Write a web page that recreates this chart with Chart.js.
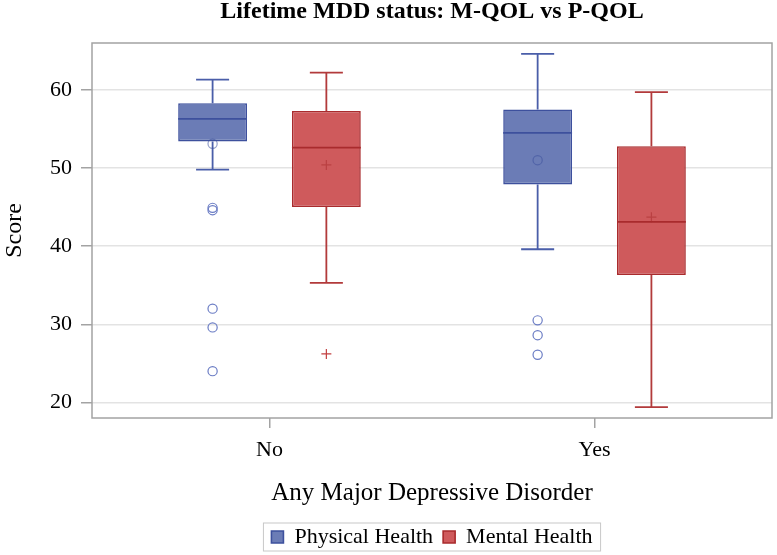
<!DOCTYPE html>
<html>
<head>
<meta charset="utf-8">
<script src="https://cdn.jsdelivr.net/npm/chart.js@4.4.1/dist/chart.umd.min.js"></script>
<style>
  html, body { margin: 0; padding: 0; background: #fff; }
  #wrap { width: 777px; height: 555px; }
</style>
</head>
<body>
<div id="wrap"><canvas id="myChart"></canvas></div>
<script>
const categories = ['No', 'Yes'];

// Physical Health box stats
const physMin = [49.8, 39.6];
const physQ1 = [53.4, 47.9];
const physMed = [56.3, 54.5];
const physQ3 = [58.3, 57.5];
const physMax = [61.3, 64.6];
const physMean = [53.1, 51.0];
const physOut = [[44.9, 44.6, 32.0, 29.6, 24.0], [30.5, 28.6, 26.1]];

// Mental Health
const mentMin = [35.3, 19.4];
const mentQ1 = [45.0, 36.3];
const mentMed = [52.6, 43.1];
const mentQ3 = [57.3, 52.8];
const mentMax = [62.2, 59.7];
const mentMean = [50.4, 43.7];
const mentOut = [[26.2], []];

const yTicks = [20, 30, 40, 50, 60];

const groups = [
  { min: physMin, med: physMed, max: physMax, mean: physMean, out: physOut,
    fill: '#6b7cb6', edge: '#3d509d', line: '#4a5ea9', mark: '#6a7cc4', meanMark: 'circle', outMark: 'circle' },
  { min: mentMin, med: mentMed, max: mentMax, mean: mentMean, out: mentOut,
    fill: '#cf5a5c', edge: '#a92b2d', line: '#b23a3b', mark: '#c23f40', meanMark: 'plus', outMark: 'plus' }
];

function marker(ctx, kind, x, y, color, alpha) {
  ctx.save();
  ctx.globalAlpha = alpha;
  ctx.strokeStyle = color;
  ctx.lineWidth = 1.2;
  ctx.beginPath();
  if (kind === 'circle') {
    ctx.arc(x, y, 4.6, 0, Math.PI * 2);
  } else {
    ctx.moveTo(x - 5, y); ctx.lineTo(x + 5, y);
    ctx.moveTo(x, y - 5); ctx.lineTo(x, y + 5);
  }
  ctx.stroke();
  ctx.restore();
}

const boxParts = {
  id: 'boxParts',
  beforeDatasetsDraw(chart) {
    // whiskers + caps
    const ctx = chart.ctx;
    const y = chart.scales.y;
    groups.forEach((g, di) => {
      chart.getDatasetMeta(di).data.forEach((bar, j) => {
        const cx = bar.x;
        const cap = bar.width * 0.24;
        const top = y.getPixelForValue(g.max[j]);
        const bot = y.getPixelForValue(g.min[j]);
        ctx.save();
        ctx.strokeStyle = g.line;
        ctx.lineWidth = 1.8;
        ctx.beginPath();
        ctx.moveTo(cx, top); ctx.lineTo(cx, bar.y);
        ctx.moveTo(cx, bar.base); ctx.lineTo(cx, bot);
        ctx.moveTo(cx - cap, top); ctx.lineTo(cx + cap, top);
        ctx.moveTo(cx - cap, bot); ctx.lineTo(cx + cap, bot);
        ctx.stroke();
        ctx.restore();
      });
    });
  },
  afterDatasetsDraw(chart) {
    const ctx = chart.ctx;
    const y = chart.scales.y;
    const a = chart.chartArea;
    groups.forEach((g, di) => {
      chart.getDatasetMeta(di).data.forEach((bar, j) => {
        const cx = bar.x;
        const half = bar.width / 2;
        const my = y.getPixelForValue(g.med[j]);
        ctx.save();
        ctx.strokeStyle = g.edge;
        ctx.lineWidth = 1.8;
        ctx.beginPath();
        ctx.moveTo(cx - half, my);
        ctx.lineTo(cx + half, my);
        ctx.stroke();
        ctx.restore();
        marker(ctx, g.meanMark, cx, y.getPixelForValue(g.mean[j]), g.edge, 0.55);
        g.out[j].forEach(v => marker(ctx, g.outMark, cx, y.getPixelForValue(v), g.mark, 1));
      });
    });
    // plot frame
    ctx.save();
    ctx.strokeStyle = '#a3a3a3';
    ctx.lineWidth = 1.5;
    ctx.strokeRect(a.left, a.top, a.right - a.left, a.bottom - a.top);
    ctx.restore();
  },
  afterDraw(chart) {
    // box round the legend
    const boxes = chart.legend.legendHitBoxes;
    if (!boxes || !boxes.length) return;
    const l = Math.min(...boxes.map(b => b.left)) - 8;
    const r = Math.max(...boxes.map(b => b.left + b.width)) + 8;
    const t = boxes[0].top - 3;
    const h = boxes[0].height + 6;
    const ctx = chart.ctx;
    ctx.save();
    ctx.strokeStyle = '#c8c8c8';
    ctx.lineWidth = 1;
    ctx.strokeRect(l, t, r - l, h);
    ctx.restore();
  }
};

const data = {
  datasets: [{
    label: 'Physical Health',
    data: categories.map((c, i) => ({ x: i, y: [physQ1[i], physQ3[i]] })),
    backgroundColor: groups[0].fill,
    borderColor: groups[0].edge,
    borderWidth: 1.6,
    borderSkipped: false
  }, {
    label: 'Mental Health',
    data: categories.map((c, i) => ({ x: i, y: [mentQ1[i], mentQ3[i]] })),
    backgroundColor: groups[1].fill,
    borderColor: groups[1].edge,
    borderWidth: 1.6,
    borderSkipped: false
  }]
};

const config = {
  type: 'bar',
  data: data,
  plugins: [boxParts],
  options: {
    responsive: true,
    maintainAspectRatio: false,
    animation: false,
    categoryPercentage: 0.70,
    barPercentage: 0.605,
    layout: {
      padding: { left: 0, right: 5, top: 0, bottom: 0 }
    },
    scales: {
      x: {
        type: 'linear',
        offset: false,
        min: -0.546,
        max: 1.546,
        grid: {
          offset: false,
          drawOnChartArea: false,
          drawTicks: true,
          tickLength: 10,
          tickColor: '#a3a3a3',
          lineWidth: 1.5
        },
        border: { display: false },
        ticks: {
          stepSize: 1,
          includeBounds: false,
          padding: 9,
          color: '#000',
          font: { family: 'Liberation Serif', size: 22 },
          callback: (v) => categories[v] !== undefined ? categories[v] : ''
        },
        title: {
          display: true,
          text: 'Any Major Depressive Disorder',
          color: '#000',
          font: { family: 'Liberation Serif', size: 25 },
          padding: { top: 0, bottom: 8 }
        },
        afterFit: (scale) => { scale.height = 98; }
      },
      y: {
        type: 'linear',
        min: 18,
        max: 66,
        afterBuildTicks: (scale) => { scale.ticks = yTicks.map(v => ({ value: v })); },
        grid: {
          color: '#e3e3e3',
          tickColor: '#a3a3a3',
          tickLength: 11,
          lineWidth: 1.5
        },
        border: { display: false },
        ticks: {
          padding: 9,
          color: '#000',
          font: { family: 'Liberation Serif', size: 22 }
        },
        title: {
          display: true,
          text: 'Score',
          color: '#000',
          font: { family: 'Liberation Serif', size: 24 },
          padding: { top: 0, bottom: 0 }
        },
        afterFit: (scale) => { scale.width = 92; }
      }
    },
    plugins: {
      title: {
        display: true,
        fullSize: false,
        text: 'Lifetime MDD status: M-QOL vs P-QOL',
        color: '#000',
        font: { family: 'Liberation Serif', size: 24, weight: 'bold', lineHeight: 1 },
        padding: { top: 0, bottom: 19 }
      },
      legend: {
        display: true,
        fullSize: false,
        position: 'bottom',
        maxHeight: 39,
        labels: {
          color: '#000',
          boxWidth: 12,
          boxHeight: 12,
          padding: 10,
          font: { family: 'Liberation Serif', size: 22 }
        }
      },
      tooltip: { enabled: false }
    }
  }
};

var myChart = new Chart(
  document.getElementById('myChart'),
  config
);
</script>
</body>
</html>
